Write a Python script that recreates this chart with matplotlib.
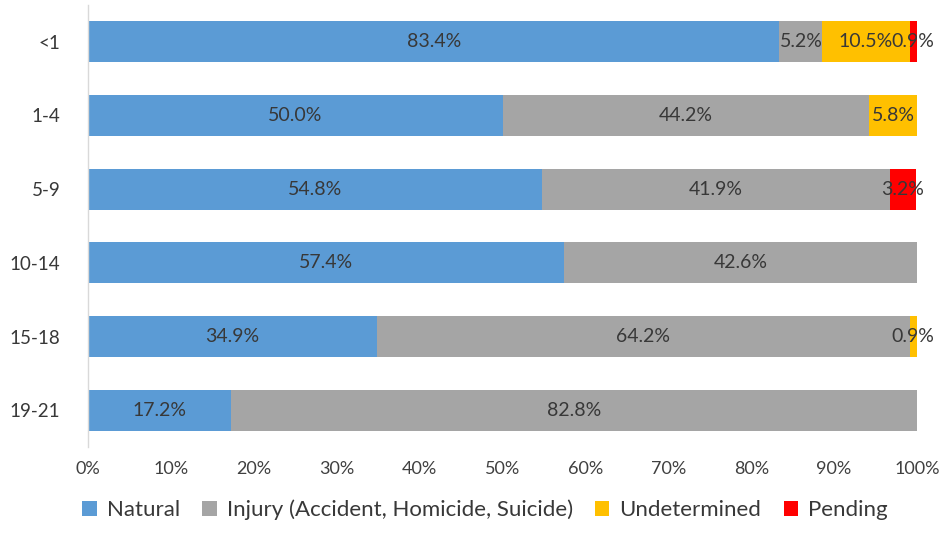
import matplotlib
matplotlib.use("Agg")
import matplotlib.pyplot as plt
from matplotlib.patches import Patch

categories = ["<1", "1-4", "5-9", "10-14", "15-18", "19-21"]
natural = [83.4, 50.0, 54.8, 57.4, 34.9, 17.2]
injury = [5.2, 44.2, 41.9, 42.6, 64.2, 82.8]
undetermined = [10.5, 5.8, 0.0, 0.0, 0.9, 0.0]
pending = [0.9, 0.0, 3.2, 0.0, 0.0, 0.0]
series_names = ["Natural", "Injury (Accident, Homicide, Suicide)", "Undetermined", "Pending"]
xticks = [0, 10, 20, 30, 40, 50, 60, 70, 80, 90, 100]
xtick_labels = [f"{t}%" for t in xticks]

colors = ["#5B9BD5", "#A5A5A5", "#FFC000", "#FF0000"]

plt.rcParams["font.family"] = ["Lato", "DejaVu Sans"]

fig = plt.figure(figsize=(9.51, 5.33), dpi=100)
ax = fig.add_axes([88/951, 1-447/533, (917-88)/951, (447-5)/533])

ypos = list(range(len(categories)))
left = [0.0]*len(categories)
data = [natural, injury, undetermined, pending]
for vals, col in zip(data, colors):
    ax.barh(ypos, vals, left=left, height=0.56, color=col, edgecolor="none")
    for i, v in enumerate(vals):
        if v > 0:
            ax.text(left[i] + v/2, ypos[i], f"{v:.1f}%", ha="center", va="center",
                    fontsize=14, color="#383838")
    left = [l + v for l, v in zip(left, vals)]

ax.set_xlim(0, 100)
ax.set_ylim(5.5, -0.5)
ax.set_yticks(ypos)
ax.set_yticklabels(categories, fontsize=13.5, color="#383838")
ax.set_xticks(xticks)
ax.set_xticklabels(xtick_labels, fontsize=13, color="#404040")
ax.tick_params(axis="both", length=0)
ax.tick_params(axis="y", pad=20)
ax.tick_params(axis="x", pad=10)
for s in ["top", "right", "bottom"]:
    ax.spines[s].set_visible(False)
ax.spines["left"].set_color("#D9D9D9")
ax.spines["left"].set_linewidth(1.0)

handles = [Patch(facecolor=c, edgecolor="none") for c in colors]
fig.legend(handles, series_names, loc="center", bbox_to_anchor=(485/951, 1-510/533),
           ncol=4, frameon=False, handlelength=0.65, handleheight=0.65, handletextpad=0.45,
           columnspacing=1.0, prop={"size": 16}, labelcolor="#383838")

fig.savefig("out.png", dpi=100)
